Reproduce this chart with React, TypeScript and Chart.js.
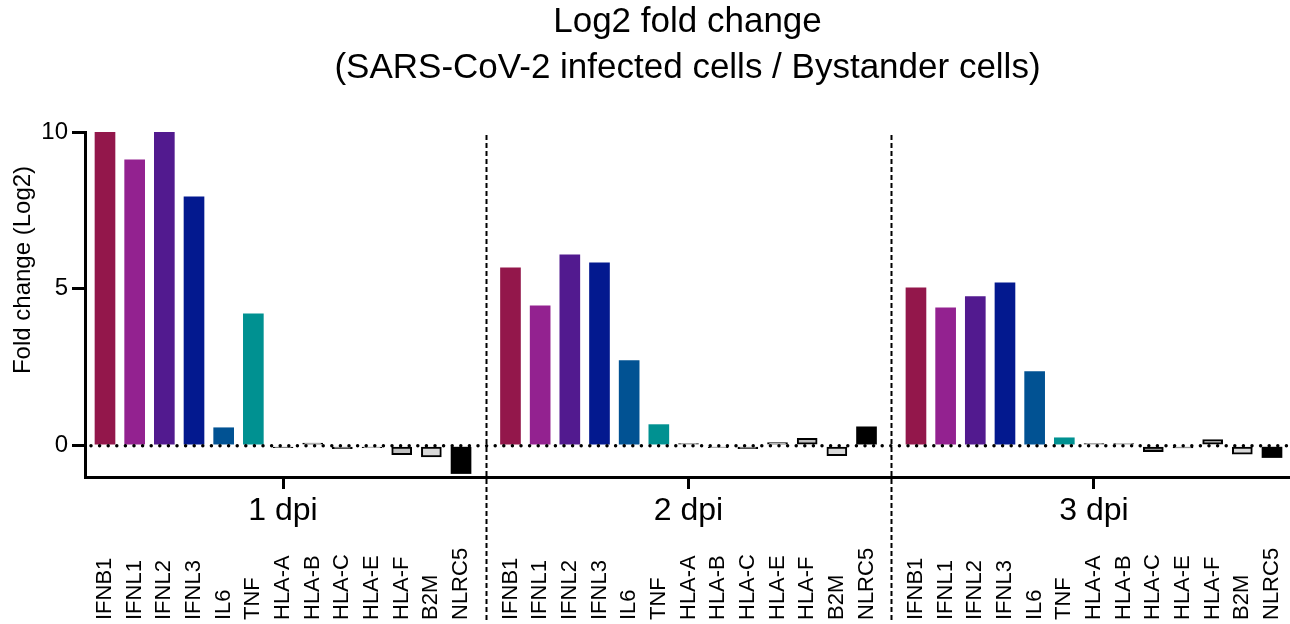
import React, { useEffect, useRef } from "react";
import { Chart, registerables } from "chart.js";

Chart.register(...registerables);

const GENES = ["IFNB1", "IFNL1", "IFNL2", "IFNL3", "IL6", "TNF", "HLA-A", "HLA-B", "HLA-C", "HLA-E", "HLA-F", "B2M", "NLRC5"];
const TIMEPOINTS = ["1 dpi", "2 dpi", "3 dpi"];
const DPI1 = [10.0, 9.11, 10.0, 7.93, 0.57, 4.2, -0.02, 0.08, -0.1, -0.02, -0.29, -0.36, -0.89];
const DPI2 = [5.67, 4.46, 6.08, 5.83, 2.71, 0.67, 0.03, -0.02, -0.1, 0.1, 0.23, -0.32, 0.6];
const DPI3 = [5.03, 4.39, 4.75, 5.19, 2.36, 0.25, 0.02, 0.01, -0.19, -0.07, 0.19, -0.27, -0.38];
const Y_TICKS = [0, 5, 10];
const GENE_COLORS = ["#93174B", "#932290", "#521A8F", "#03198F", "#015293", "#009191", "#6e6e6e", "#a8a8a8", "#8c8c8c", "#b0b0b0", "#c0c0c0", "#d9d9d9", "#000000"];
const GENE_OUTLINED = [false, false, false, false, false, false, true, true, true, true, true, true, false];

const SERIES = [DPI1, DPI2, DPI3];
const GROUP_PERIOD = 13 + 2 / 3;
const FONT = "'Liberation Sans', Arial, Helvetica, sans-serif";

export default function App() {
  const ref = useRef<HTMLCanvasElement | null>(null);

  useEffect(() => {
    if (!ref.current) return;
    const points: { x: number; y: number }[] = [];
    const bg: string[] = [];
    const bw: number[] = [];
    SERIES.forEach((vals, g) => {
      vals.forEach((v, i) => {
        points.push({ x: g * GROUP_PERIOD + i, y: v });
        bg.push(GENE_COLORS[i]);
        bw.push(GENE_OUTLINED[i] ? 2 : 0);
      });
    });
    const groupCenters = TIMEPOINTS.map((_, g) => g * GROUP_PERIOD + (GENES.length - 1) / 2);
    const separators = [0, 1].map((g) => g * GROUP_PERIOD + (GENES.length - 1 + GROUP_PERIOD) / 2);

    const overlay = {
      id: "overlay",
      afterDatasetsDraw(chart: any) {
        const { ctx, chartArea, scales } = chart;
        const y0 = scales.y.getPixelForValue(0);
        ctx.save();
        ctx.strokeStyle = "#000";
        ctx.lineWidth = 3.5;
        ctx.lineCap = "round";
        ctx.setLineDash([0, 8.6]);
        ctx.beginPath();
        ctx.moveTo(chartArea.left + 6, y0);
        ctx.lineTo(chartArea.right, y0);
        ctx.stroke();
        ctx.restore();
      },
      afterDraw(chart: any) {
        const { ctx, scales } = chart;
        ctx.save();
        ctx.strokeStyle = "#000";
        ctx.lineWidth = 2;
        ctx.setLineDash([5, 3]);
        separators.forEach((s) => {
          const x = Math.round(scales.x.getPixelForValue(s)) + 0.5;
          ctx.beginPath();
          ctx.moveTo(x, 135);
          ctx.lineTo(x, 620);
          ctx.stroke();
        });
        ctx.setLineDash([]);
        ctx.fillStyle = "#000";
        ctx.font = `22px ${FONT}`;
        ctx.textAlign = "left";
        ctx.textBaseline = "middle";
        TIMEPOINTS.forEach((_, g) => {
          GENES.forEach((gene, i) => {
            const x = scales.x.getPixelForValue(g * GROUP_PERIOD + i);
            ctx.save();
            ctx.translate(x, 620);
            ctx.rotate(-Math.PI / 2);
            ctx.fillText(gene, 0, 0);
            ctx.restore();
          });
        });
        ctx.font = `24px ${FONT}`;
        ctx.textAlign = "center";
        ctx.save();
        ctx.translate(23, 270);
        ctx.rotate(-Math.PI / 2);
        ctx.fillText("Fold change (Log2)", 0, 0);
        ctx.restore();
        ctx.restore();
      },
    };

    const chart = new Chart(ref.current, {
      type: "bar",
      data: {
        datasets: [
          {
            data: points,
            backgroundColor: bg,
            borderColor: "#000",
            borderWidth: bw,
            borderSkipped: false,
            barThickness: 20,
            minBarLength: 2,
          } as any,
        ],
      },
      options: {
        responsive: false,
        animation: false,
        devicePixelRatio: 1,
        layout: { padding: 0 },
        plugins: {
          legend: { display: false },
          tooltip: { enabled: false },
          title: {
            display: true,
            fullSize: false,
            text: ["Log2 fold change", "(SARS-CoV-2 infected cells / Bystander cells)"],
            color: "#000",
            font: { family: FONT, size: 35, weight: "normal", lineHeight: 1.3 },
            padding: { top: 0, bottom: 41 },
          },
        },
        scales: {
          x: {
            type: "linear",
            offset: false,
            min: -0.674,
            max: 39.94,
            afterBuildTicks: (scale: any) => {
              scale.ticks = groupCenters.map((v) => ({ value: v }));
            },
            afterFit: (scale: any) => {
              scale.height = 147;
            },
            ticks: {
              autoSkip: false,
              maxRotation: 0,
              padding: 3,
              color: "#000",
              font: { family: FONT, size: 32 },
              callback: (_v: any, idx: number) => TIMEPOINTS[idx],
            },
            grid: {
              display: true,
              drawOnChartArea: false,
              drawTicks: true,
              tickLength: 12,
              lineWidth: 3,
              color: "#000",
              offset: false,
            },
            border: { display: true, width: 3, color: "#000" },
          },
          y: {
            min: -1,
            max: 10,
            afterBuildTicks: (scale: any) => {
              scale.ticks = Y_TICKS.map((v) => ({ value: v }));
            },
            afterFit: (scale: any) => {
              scale.width = 85;
            },
            ticks: {
              padding: 4,
              color: "#000",
              font: { family: FONT, size: 24 },
            },
            grid: {
              display: true,
              drawOnChartArea: false,
              drawTicks: true,
              tickLength: 13,
              lineWidth: 3,
              color: "#000",
            },
            border: { display: true, width: 3, color: "#000" },
          },
        },
      } as any,
      plugins: [overlay],
    });
    return () => chart.destroy();
  }, []);

  return (
    <div style={{ position: "fixed", left: 0, top: 0, width: 1290, height: 624, background: "#fff" }}>
      <canvas ref={ref} width={1290} height={624} style={{ display: "block" }} />
    </div>
  );
}
